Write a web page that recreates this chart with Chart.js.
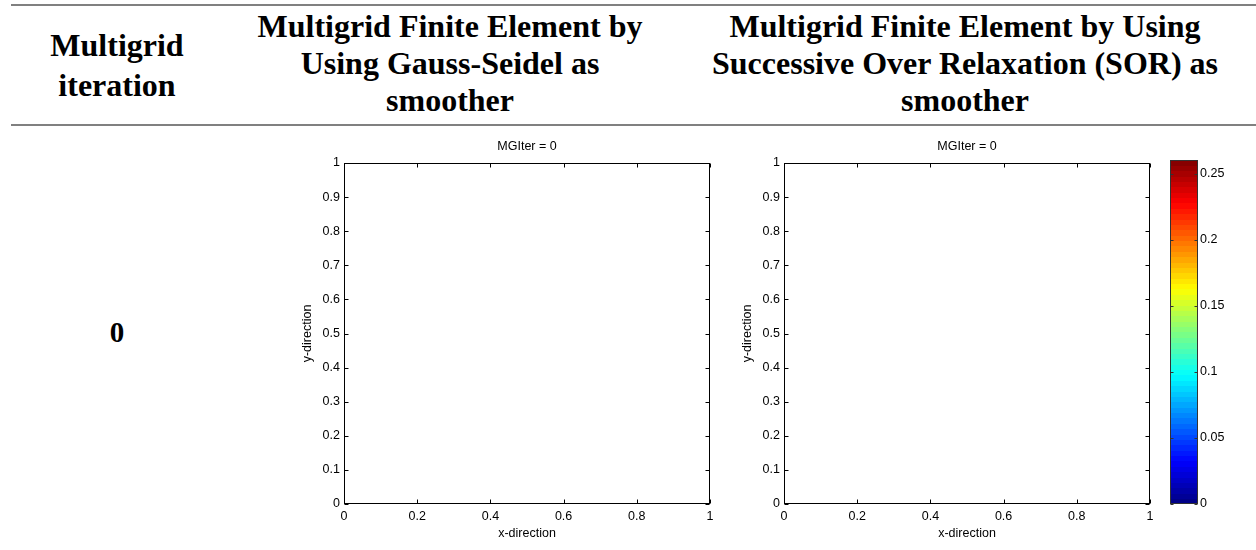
<!DOCTYPE html>
<html>
<head>
<meta charset="utf-8">
<script src="https://cdn.jsdelivr.net/npm/chart.js@4.4.1/dist/chart.umd.min.js"></script>
<style>
  body { margin: 0; width: 1256px; height: 550px; background: #fff; position: relative; overflow: hidden; }
  .hline { position: absolute; left: 11px; right: 0; height: 2px; background: #808080; }
  .hd { position: absolute; width: 600px; text-align: center; font: bold 32px "Liberation Serif", "Times New Roman", serif; line-height: 32px; color: #000; white-space: nowrap; }
  .box { position: absolute; }
</style>
</head>
<body>
<div class="hline" style="top:4px"></div>
<div class="hline" style="top:124px"></div>

<!-- header cells, one div per line -->
<div class="hd" style="left:-183px;top:29px">Multigrid</div>
<div class="hd" style="left:-183px;top:69px">iteration</div>
<div class="hd" style="left:150px;top:10px">Multigrid Finite Element by</div>
<div class="hd" style="left:150px;top:47px">Using Gauss-Seidel as</div>
<div class="hd" style="left:150px;top:84px">smoother</div>
<div class="hd" style="left:665px;top:10px">Multigrid Finite Element by Using</div>
<div class="hd" style="left:665px;top:47px">Successive Over Relaxation (SOR) as</div>
<div class="hd" style="left:665px;top:84px">smoother</div>
<div class="hd" style="left:-183px;top:318px;font-size:29px;line-height:29px">0</div>

<div class="box" style="left:290px;top:140px"><canvas id="gs" width="430" height="410"></canvas></div>
<div class="box" style="left:730px;top:140px"><canvas id="sor" width="430" height="410"></canvas></div>
<div class="box" style="left:1160px;top:140px"><canvas id="cbar" width="96" height="410"></canvas></div>

<script>
// axis ticks
const xTicks = [0, 0.2, 0.4, 0.6, 0.8, 1];
const yTicks = [0, 0.1, 0.2, 0.3, 0.4, 0.5, 0.6, 0.7, 0.8, 0.9, 1];
const cbarTicks = [0, 0.05, 0.1, 0.15, 0.2, 0.25];
const cbarMax = 0.2606;   // top of the colour bar
const cbarLevels = 64;    // matlab jet(64)
const plotTitles = ['MGIter = 0', 'MGIter = 0'];
// nothing plotted yet at iteration 0
const gsValues = [];
const sorValues = [];

Chart.defaults.font.family = '"Liberation Sans", Arial, sans-serif';
Chart.defaults.font.size = 12.5;
Chart.defaults.color = '#000';

function clamp(v) { return Math.max(0, Math.min(1, v)); }
function jet(t) {
  const r = clamp(1.5 - Math.abs(4 * t - 3));
  const g = clamp(1.5 - Math.abs(4 * t - 2));
  const b = clamp(1.5 - Math.abs(4 * t - 1));
  return `rgb(${Math.round(r * 255)},${Math.round(g * 255)},${Math.round(b * 255)})`;
}

// box round the axes + inward ticks on every side, like matlab
const boxTicks = {
  id: 'boxTicks',
  afterDraw(chart, args, opts) {
    const { ctx, chartArea: a, scales } = chart;
    const L = Math.round(a.left) + 0.5, R = Math.round(a.right) - 0.5;
    const T = Math.round(a.top) + 0.5, B = Math.round(a.bottom) - 0.5;
    const len = opts.len || 4;
    ctx.save();
    ctx.strokeStyle = opts.color || '#000';
    ctx.lineWidth = 1;
    ctx.strokeRect(L, T, R - L, B - T);
    ctx.beginPath();
    if (opts.xTicks && scales.x.options.display !== false) {
      for (const t of scales.x.ticks) {
        const px = Math.round(scales.x.getPixelForValue(t.value)) + 0.5;
        ctx.moveTo(px, B); ctx.lineTo(px, B - len);
        ctx.moveTo(px, T); ctx.lineTo(px, T + len);
      }
    }
    for (const t of scales.y.ticks) {
      const py = Math.round(scales.y.getPixelForValue(t.value)) + 0.5;
      ctx.moveTo(L, py); ctx.lineTo(L + len, py);
      ctx.moveTo(R, py); ctx.lineTo(R - len, py);
    }
    ctx.stroke();
    if (opts.title) {
      ctx.fillStyle = '#000';
      ctx.font = Chart.helpers.toFont(Chart.defaults.font).string;
      ctx.textAlign = 'center';
      ctx.textBaseline = 'middle';
      ctx.fillText(opts.title, (a.left + a.right) / 2, a.top - 16);
    }
    ctx.restore();
  }
};

// colour bands drawn against the colour bar's own y scale
const jetBands = {
  id: 'jetBands',
  beforeDatasetsDraw(chart) {
    const { ctx, chartArea: a, scales } = chart;
    ctx.save();
    for (let i = 0; i < cbarLevels; i++) {
      const y0 = scales.y.getPixelForValue(cbarMax * i / cbarLevels);
      const y1 = scales.y.getPixelForValue(cbarMax * (i + 1) / cbarLevels);
      ctx.fillStyle = jet((i + 0.5) / cbarLevels);
      ctx.fillRect(a.left, Math.floor(y1), a.right - a.left, Math.ceil(y0) - Math.floor(y1));
    }
    ctx.restore();
  }
};

function fmt(v) { return String(v); }

function plotOpts(title) {
  return {
    responsive: false,
    devicePixelRatio: 1,
    animation: false,
    layout: { padding: { top: 23, right: 10, left: 0, bottom: 0 } },
    plugins: {
      legend: { display: false },
      tooltip: { enabled: false },
      boxTicks: { len: 4, xTicks: true, title: title }
    },
    scales: {
      x: {
        type: 'linear', min: 0, max: 1,
        afterBuildTicks: s => { s.ticks = xTicks.map(v => ({ value: v })); },
        afterFit: s => { s.height = 46; },
        grid: { display: false, drawTicks: false },
        border: { display: false },
        ticks: { padding: 5, maxRotation: 0, callback: fmt },
        title: { display: true, text: 'x-direction', padding: { top: 0, bottom: 9 } }
      },
      y: {
        type: 'linear', min: 0, max: 1,
        afterBuildTicks: s => { s.ticks = yTicks.map(v => ({ value: v })); },
        afterFit: s => { s.width = 54; },
        grid: { display: false, drawTicks: false },
        border: { display: false },
        ticks: { padding: 4, callback: fmt },
        title: { display: true, text: 'y-direction', padding: { top: 10, bottom: 0 } }
      }
    }
  };
}

new Chart(document.getElementById('gs'), {
  type: 'scatter',
  data: { datasets: [{ data: gsValues, pointRadius: 2, backgroundColor: '#00f' }] },
  options: plotOpts(plotTitles[0]),
  plugins: [boxTicks]
});

new Chart(document.getElementById('sor'), {
  type: 'scatter',
  data: { datasets: [{ data: sorValues, pointRadius: 2, backgroundColor: '#00f' }] },
  options: plotOpts(plotTitles[1]),
  plugins: [boxTicks]
});

new Chart(document.getElementById('cbar'), {
  type: 'scatter',
  data: { datasets: [{ data: [] }] },
  options: {
    responsive: false,
    devicePixelRatio: 1,
    animation: false,
    layout: { padding: { top: 20, right: 0, left: 10, bottom: 46 } },
    plugins: {
      legend: { display: false },
      tooltip: { enabled: false },
      boxTicks: { len: 3, xTicks: false, color: '#333' }
    },
    scales: {
      x: { display: false, min: 0, max: 1 },
      y: {
        position: 'right', min: 0, max: cbarMax,
        afterBuildTicks: s => { s.ticks = cbarTicks.map(v => ({ value: v })); },
        afterFit: s => { s.width = 58; },
        grid: { display: false, drawTicks: false },
        border: { display: false },
        ticks: { padding: 2, callback: fmt }
      }
    }
  },
  plugins: [jetBands, boxTicks]
});
</script>
</body>
</html>
